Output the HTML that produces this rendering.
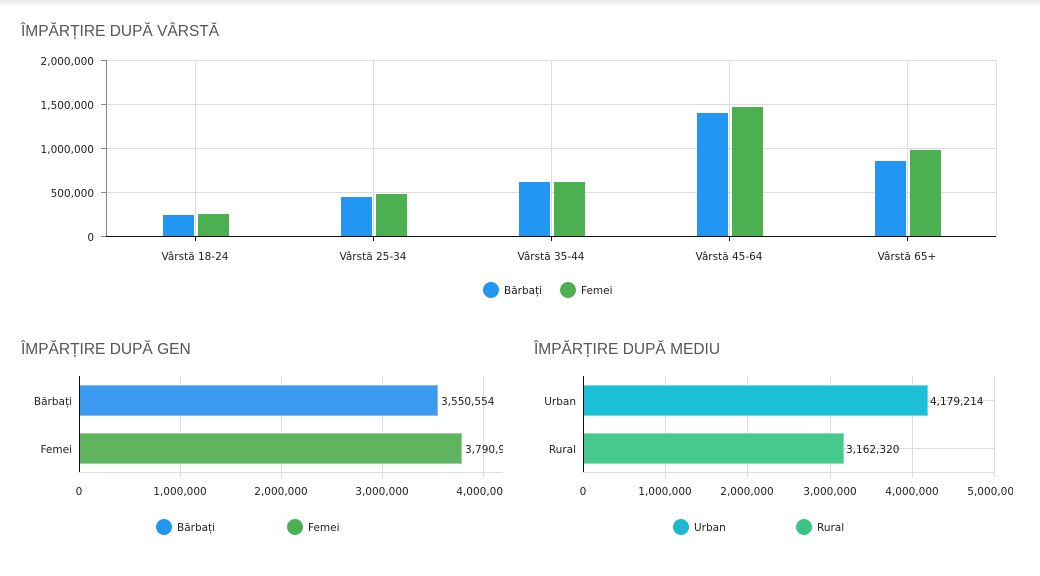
<!DOCTYPE html>
<html><head><meta charset="utf-8"><style>
html,body{margin:0;padding:0;background:#fff;width:1040px;height:576px;overflow:hidden}
svg{display:block}
.t{font-family:"Liberation Sans",sans-serif;font-size:15.5px;fill:#555}
.l{font-family:"DejaVu Sans","Liberation Sans",sans-serif;font-size:10.5px;fill:#222}
.g{stroke:#dcdcdc;stroke-width:1}
</style></head><body>
<svg width="1040" height="576" viewBox="0 0 1040 576">
<defs><linearGradient id="sh" x1="0" y1="0" x2="0" y2="1"><stop offset="0" stop-color="#e6e6e6"/><stop offset="1" stop-color="#fff"/></linearGradient>
<clipPath id="cg"><rect x="0" y="330" width="503" height="240"/></clipPath>
<clipPath id="cm"><rect x="520" y="330" width="493" height="240"/></clipPath></defs>
<rect x="0" y="0" width="1040" height="6" fill="url(#sh)"/>
<text class="t" x="21" y="36">ÎMPĂRȚIRE DUPĂ VÂRSTĂ</text>
<g class="g">
<line x1="106" y1="60.5" x2="996" y2="60.5"/><line x1="106" y1="104.5" x2="996" y2="104.5"/><line x1="106" y1="148.5" x2="996" y2="148.5"/><line x1="106" y1="192.5" x2="996" y2="192.5"/>
<line x1="195.5" y1="60" x2="195.5" y2="236"/><line x1="373.5" y1="60" x2="373.5" y2="236"/><line x1="551.5" y1="60" x2="551.5" y2="236"/><line x1="729.5" y1="60" x2="729.5" y2="236"/><line x1="907.5" y1="60" x2="907.5" y2="236"/><line x1="996.5" y1="60" x2="996.5" y2="236"/>
</g>
<line x1="106.5" y1="60" x2="106.5" y2="236" stroke="#888"/>
<g stroke="#888"><line x1="101" y1="60.5" x2="106" y2="60.5"/><line x1="101" y1="104.5" x2="106" y2="104.5"/><line x1="101" y1="148.5" x2="106" y2="148.5"/><line x1="101" y1="192.5" x2="106" y2="192.5"/><line x1="101" y1="236.5" x2="106" y2="236.5"/></g>
<g fill="#2196f3"><rect x="163" y="215" width="31" height="21"/><rect x="341" y="197" width="31" height="39"/><rect x="519" y="182" width="31" height="54"/><rect x="697" y="113" width="31" height="123"/><rect x="875" y="161" width="31" height="75"/></g>
<g fill="#4caf50"><rect x="198" y="214" width="31" height="22"/><rect x="376" y="194" width="31" height="42"/><rect x="554" y="182" width="31" height="54"/><rect x="732" y="107" width="31" height="129"/><rect x="910" y="150" width="31" height="86"/></g>
<line x1="106" y1="236.5" x2="996" y2="236.5" stroke="#111"/>
<g stroke="#111"><line x1="195.5" y1="236" x2="195.5" y2="241"/><line x1="373.5" y1="236" x2="373.5" y2="241"/><line x1="551.5" y1="236" x2="551.5" y2="241"/><line x1="729.5" y1="236" x2="729.5" y2="241"/><line x1="907.5" y1="236" x2="907.5" y2="241"/></g>
<g class="l" text-anchor="end"><text x="94" y="65">2,000,000</text><text x="94" y="109">1,500,000</text><text x="94" y="153">1,000,000</text><text x="94" y="197">500,000</text><text x="94" y="241">0</text></g>
<g class="l" text-anchor="middle"><text x="195" y="260">Vârstă 18-24</text><text x="373" y="260">Vârstă 25-34</text><text x="551" y="260">Vârstă 35-44</text><text x="729" y="260">Vârstă 45-64</text><text x="907" y="260">Vârstă 65+</text></g>
<circle cx="491" cy="290" r="8" fill="#2196f3"/><text class="l" x="504" y="294">Bărbați</text>
<circle cx="568" cy="290" r="8" fill="#4caf50"/><text class="l" x="581" y="294">Femei</text>

<text class="t" x="21" y="354">ÎMPĂRȚIRE DUPĂ GEN</text>
<g clip-path="url(#cg)">
<g class="g"><line x1="180.5" y1="376" x2="180.5" y2="477"/><line x1="281.5" y1="376" x2="281.5" y2="477"/><line x1="382.5" y1="376" x2="382.5" y2="477"/><line x1="483.5" y1="376" x2="483.5" y2="477"/><line x1="79" y1="472.5" x2="503" y2="472.5"/></g>
<rect x="79.5" y="385.5" width="358" height="30" fill="#3a9bf0" stroke="#8ab8e8"/>
<rect x="79.5" y="433.5" width="382" height="30" fill="#5fb45f" stroke="#9fcf9f"/>
<text class="l" x="441" y="405">3,550,554</text><text class="l" x="465" y="453">3,790,974</text>
<g class="l" text-anchor="middle"><text x="79" y="495">0</text><text x="180" y="495">1,000,000</text><text x="281" y="495">2,000,000</text><text x="382" y="495">3,000,000</text><text x="483" y="495">4,000,000</text></g>
</g>
<line x1="79.5" y1="376" x2="79.5" y2="472" stroke="#111"/>
<g class="l" text-anchor="end"><text x="72" y="405">Bărbați</text><text x="72" y="453">Femei</text></g>
<circle cx="164" cy="527" r="8" fill="#2196f3"/><text class="l" x="177" y="531">Bărbați</text>
<circle cx="295" cy="527" r="8" fill="#4caf50"/><text class="l" x="308" y="531">Femei</text>

<text class="t" x="534" y="354">ÎMPĂRȚIRE DUPĂ MEDIU</text>
<g clip-path="url(#cm)">
<g class="g"><line x1="665.5" y1="376" x2="665.5" y2="477"/><line x1="747.5" y1="376" x2="747.5" y2="477"/><line x1="830.5" y1="376" x2="830.5" y2="477"/><line x1="912.5" y1="376" x2="912.5" y2="477"/><line x1="994.5" y1="376" x2="994.5" y2="477"/><line x1="583" y1="400.5" x2="994" y2="400.5"/><line x1="583" y1="448.5" x2="994" y2="448.5"/><line x1="583" y1="472.5" x2="994" y2="472.5"/></g>
<rect x="583.5" y="385.5" width="344" height="30" fill="#1bc0d8" stroke="#7fd6e2"/>
<rect x="583.5" y="433.5" width="260" height="30" fill="#45c98c" stroke="#8fdcb6"/>
<text class="l" x="930" y="405">4,179,214</text><text class="l" x="846" y="453">3,162,320</text>
<g class="l" text-anchor="middle"><text x="583" y="495">0</text><text x="665" y="495">1,000,000</text><text x="747" y="495">2,000,000</text><text x="830" y="495">3,000,000</text><text x="912" y="495">4,000,000</text><text x="994" y="495">5,000,000</text></g>
</g>
<line x1="583.5" y1="376" x2="583.5" y2="472" stroke="#111"/>
<g class="l" text-anchor="end"><text x="576" y="405">Urban</text><text x="576" y="453">Rural</text></g>
<circle cx="681" cy="527" r="8" fill="#1bb8d4"/><text class="l" x="694" y="531">Urban</text>
<circle cx="804" cy="527" r="8" fill="#3cc486"/><text class="l" x="817" y="531">Rural</text>
</svg>
</body></html>
